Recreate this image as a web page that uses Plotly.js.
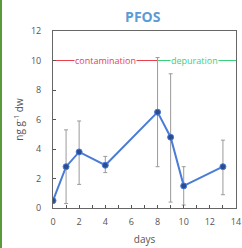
<!DOCTYPE html>
<html><head><meta charset="utf-8">
<script src="https://cdn.plot.ly/plotly-3.0.1.min.js"></script>
<style>html,body{margin:0;padding:0;background:#fff;}#border{position:absolute;left:0;top:0;width:2px;height:248px;background:#5a9a3c;z-index:2;}#chart{width:242px;height:248px;}</style>
</head><body><div id="border"></div><div id="chart"></div>
<script>
const days = [0, 1, 2, 4, 8, 9, 10, 13];
const pfos = [0.5, 2.8, 3.8, 2.9, 6.5, 4.8, 1.5, 2.8];
const errUp = [0, 2.5, 2.1, 0.6, 3.7, 4.3, 1.3, 1.8];
const errDown = [0, 2.5, 2.2, 0.5, 3.7, 4.4, 1.3, 1.9];
const phases = ['contamination', 'depuration'];
const phaseStart = [0, 8];
const phaseEnd = [8, 14];
const phaseLevel = 10;
const phaseColors = ['#e8404f', '#3ccf7a'];

const traces = [{
  x: days, y: pfos, type: 'scatter', mode: 'lines+markers',
  line: {color: '#4a7cd6', width: 2},
  marker: {symbol: 'circle', size: 6, color: '#2b4c8f', line: {color: '#4a7cd6', width: 1}},
  error_y: {type: 'data', symmetric: false, array: errUp, arrayminus: errDown, color: '#9a9a9a', thickness: 1, width: 2},
  showlegend: false
}];
const shapes = phases.map((p, i) => ({type: 'line', xref: 'x', yref: 'y', x0: phaseStart[i], x1: phaseEnd[i], y0: phaseLevel, y1: phaseLevel, line: {color: phaseColors[i], width: 1.2}, layer: 'below'}));
const annotations = phases.map((p, i) => ({x: i === 0 ? 4 : 10.8, y: phaseLevel, xref: 'x', yref: 'y', text: p, showarrow: false, bgcolor: '#fff', font: {family: 'Open Sans, sans-serif', size: 9, color: phaseColors[i]}, borderpad: 0}));

const layout = {
  width: 242, height: 248,
  margin: {l: 53, r: 6, t: 31, b: 40},
  paper_bgcolor: '#fff', plot_bgcolor: '#fff',
  title: {text: '<b>PFOS</b>', x: 0.59, xanchor: 'center', y: 0.93, yanchor: 'middle', font: {family: 'Open Sans, sans-serif', size: 14, color: '#5b9bd5'}},
  xaxis: {range: [0, 14], tickvals: [0, 2, 4, 6, 8, 10, 12, 14], ticks: 'inside', ticklen: 3, tickcolor: '#555',
    minor: {dtick: 1, ticks: 'inside', ticklen: 3, tickcolor: '#555'},
    showgrid: false, zeroline: false, showline: true, linecolor: '#666', linewidth: 1, mirror: true,
    ticklabeloverflow: 'allow', automargin: false,
    tickfont: {family: 'Open Sans, sans-serif', size: 9, color: '#555'}, ticklabelstandoff: 5,
    title: {text: 'days', standoff: 9, font: {family: 'Open Sans, sans-serif', size: 10, color: '#555'}}},
  yaxis: {range: [0, 12], tickvals: [0, 2, 4, 6, 8, 10, 12], ticks: 'inside', ticklen: 3, tickcolor: '#555',
    showgrid: false, zeroline: false, showline: true, linecolor: '#666', linewidth: 1, mirror: true,
    automargin: false,
    tickfont: {family: 'Open Sans, sans-serif', size: 9, color: '#555'}, ticklabelstandoff: 9,
    title: {text: 'ng g<sup>-1</sup> dw', standoff: 5, font: {family: 'Open Sans, sans-serif', size: 10, color: '#555'}}},
  shapes: shapes, annotations: annotations
};
Plotly.newPlot('chart', traces, layout, {displayModeBar: false, staticPlot: true});
</script></body></html>
